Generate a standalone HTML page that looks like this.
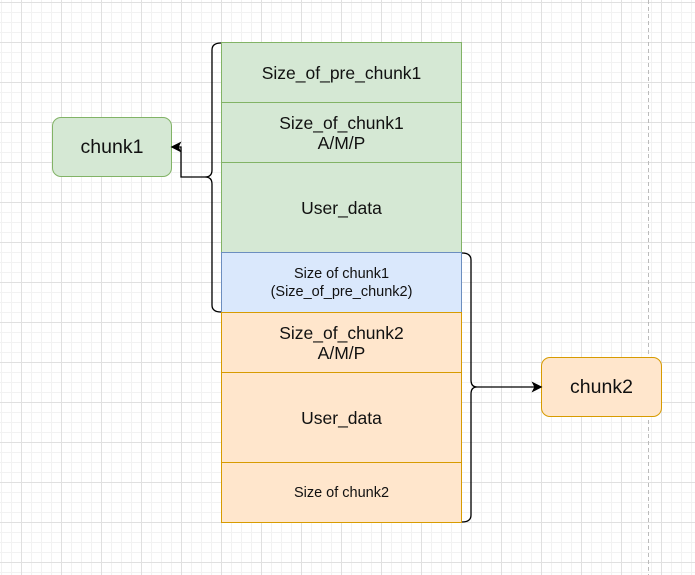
<!DOCTYPE html>
<html><head><style>
body{margin:0;width:695px;height:575px;overflow:hidden;background:#fff;
background-image:
linear-gradient(#e0e0e0 1px,transparent 1px),linear-gradient(90deg,#e0e0e0 1px,transparent 1px),
linear-gradient(#f2f2f2 1px,transparent 1px),linear-gradient(90deg,#f2f2f2 1px,transparent 1px);
background-size:40px 40px,40px 40px,10px 10px,10px 10px;
background-position:0 2px,21px 0,0 2px,1px 0;
font-family:"Liberation Sans",Arial,sans-serif;position:relative}
.b{position:absolute;box-sizing:border-box;display:flex;align-items:center;justify-content:center;text-align:center;color:#111;line-height:20px}
.g{background:#d5e8d4;border:1px solid #82b366}
.bl{background:#dae8fc;border:1px solid #6c8ebf}
.o{background:#ffe6cc;border:1px solid #d79b00}
.L{font-size:17.5px}.S{font-size:14.5px;line-height:18px}
</style></head><body>
<svg width="695" height="575" style="position:absolute;left:0;top:0"><line x1="648.5" y1="0" x2="648.5" y2="575" stroke="#bbb" stroke-dasharray="4 3" stroke-width="1"/></svg>
<div class="b g L" style="left:221px;top:42px;width:241px;height:61px">Size_of_pre_chunk1</div>
<div class="b g L" style="left:221px;top:102px;width:241px;height:61px">Size_of_chunk1<br>A/M/P</div>
<div class="b g L" style="left:221px;top:162px;width:241px;height:91px">User_data</div>
<div class="b bl S" style="left:221px;top:252px;width:241px;height:61px">Size of chunk1<br>(Size_of_pre_chunk2)</div>
<div class="b o L" style="left:221px;top:312px;width:241px;height:61px">Size_of_chunk2<br>A/M/P</div>
<div class="b o L" style="left:221px;top:372px;width:241px;height:91px">User_data</div>
<div class="b o S" style="left:221px;top:462px;width:241px;height:61px">Size of chunk2</div>
<div class="b g" style="left:52px;top:117px;width:120px;height:60px;border-radius:9px;font-size:19.5px">chunk1</div>
<div class="b o" style="left:541px;top:357px;width:121px;height:60px;border-radius:9px;font-size:19.5px">chunk2</div>
<svg width="695" height="575" style="position:absolute;left:0;top:0" fill="none" stroke="#000" stroke-width="1.3">
<path d="M221,43 Q212,43 212,50 L212,170 Q212,177 205,177 Q212,177 212,184 L212,305 Q212,312 221,312"/>
<path d="M205,177 L181,177 L181,147 L178,147"/>
<path d="M172,147 L180,143 L178,147 L180,151 Z" fill="#000"/>
<path d="M462,253 Q471,253 471,260 L471,380 Q471,387 477,387 Q471,387 471,394 L471,515 Q471,522 462,522"/>
<path d="M477,387 L535,387"/>
<path d="M541,387 L533,383 L535,387 L533,391 Z" fill="#000"/>
</svg>
</body></html>
